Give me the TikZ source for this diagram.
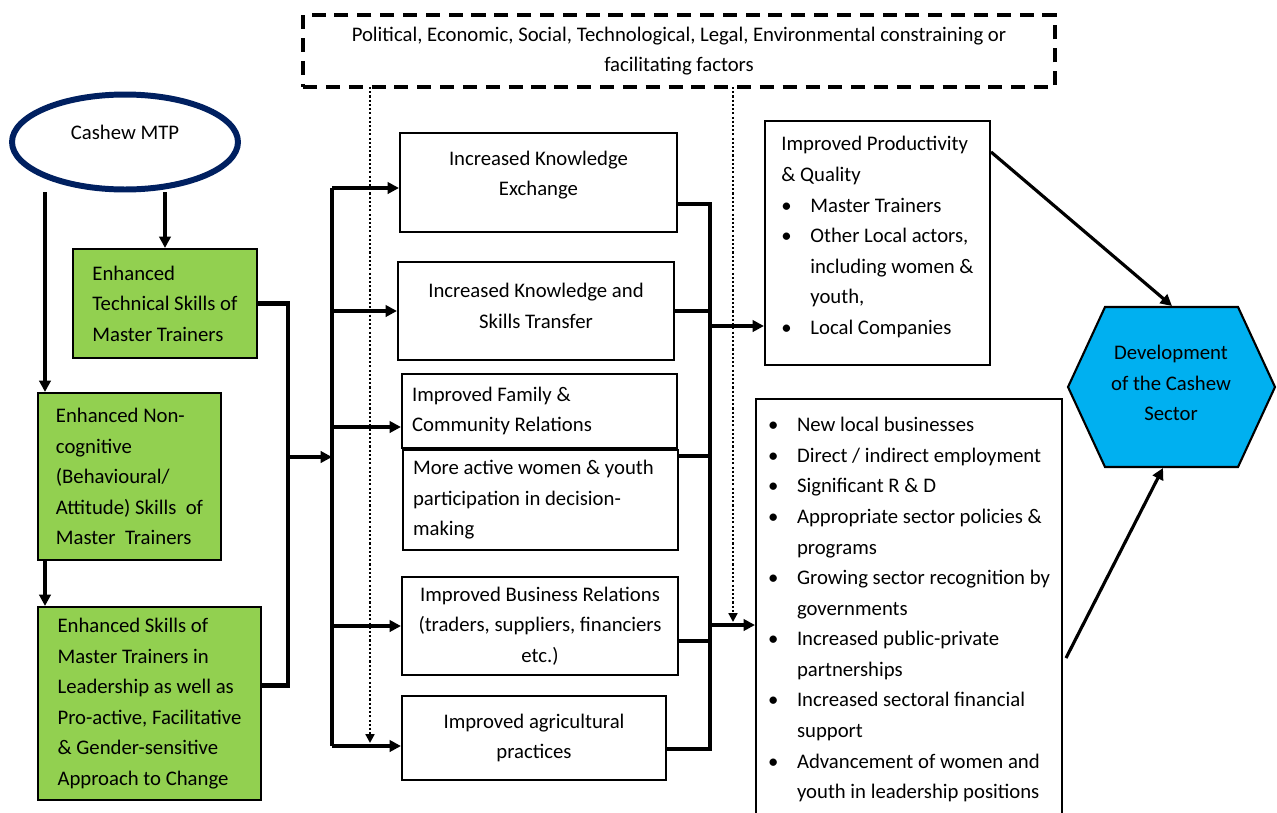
\documentclass[tikz,border=0pt]{standalone}
\usepackage{fontspec}
\setmainfont{Carlito}
\usepackage{xcolor}
\usepackage{tikz}
\usetikzlibrary{positioning,arrows.meta,shapes.geometric}
\definecolor{mtpnavy}{HTML}{002060}
\definecolor{skillgreen}{HTML}{92D050}
\definecolor{sectorblue}{HTML}{00B0F0}
\newcommand{\dfont}{\fontsize{11.8}{17.4}\selectfont}
\newcommand{\bl}{\makebox[0.58cm][l]{\textbullet}}
\newcommand{\bi}{\hspace*{0.58cm}}
\tikzset{
  mtpell/.style ={draw=mtpnavy, ellipse, line width=3.4pt, minimum width=4.52cm, minimum height=1.9cm, font=\dfont},
  skill/.style  ={draw, rectangle, fill=skillgreen, line width=1.2pt, align=left, font=\dfont},
  outc/.style   ={draw, rectangle, fill=white, line width=1.2pt, align=center, font=\dfont},
  outl/.style   ={outc, align=flush left, inner xsep=0.2cm},
  env/.style    ={draw, rectangle, dash pattern=on 8pt off 5pt, line width=2pt, align=center, font=\dfont},
  hexsec/.style ={draw, fill=sectorblue, line width=1.2pt},
  arr/.style    ={-{Triangle[length=6.5pt,width=6.5pt]}, line width=1.8pt},
  link/.style   ={line width=2.4pt},
  dotarr/.style ={-{Triangle[length=5pt,width=5pt]}, dash pattern=on 1.2pt off 1.2pt, line width=1.2pt},
}

\begin{document}
\begin{tikzpicture}[x=0.02cm, y=-0.02cm]
    \useasboundingbox (0,0) rectangle (1277,812);
    \clip (0,0) rectangle (1277,812);

    % external factors
    \node[env, minimum width=15.04cm, minimum height=1.44cm] (pest) at (679,51)
      {Political, Economic, Social, Technological, Legal, Environmental constraining or\\facilitating factors};

    % programme and skills
    \node[mtpell, text depth=0.4cm] (mtp) at (125,142) {Cashew MTP};
    \node[skill, minimum width=3.68cm, minimum height=2.18cm] (g1) at (165,303.5)
      {Enhanced\\Technical Skills of\\Master Trainers};
    \node[skill, minimum width=3.66cm, minimum height=3.34cm] (g2) at (129.5,476.5)
      {Enhanced Non-\\cognitive\\(Behavioural/\\Attitude) Skills~ of\\Master~ Trainers};
    \node[skill, minimum width=4.46cm, minimum height=3.86cm] (g3) at (149.5,703.5)
      {Enhanced Skills of\\Master Trainers in\\Leadership as well as\\Pro-active, Facilitative\\\& Gender-sensitive\\Approach to Change};

    % intermediate outcomes
    \node[outc, minimum width=5.54cm, minimum height=1.98cm, text depth=0.36cm] (A) at (538.5,182.5) {Increased Knowledge\\Exchange};
    \node[outc, minimum width=5.52cm, minimum height=1.96cm, text depth=0.2cm] (B) at (536,311) {Increased Knowledge and\\Skills Transfer};
    \node[outl, minimum width=5.5cm, minimum height=1.48cm, text width=5.1cm] (C) at (539.5,411) {Improved Family \&\\Community Relations};
    \node[outl, minimum width=5.5cm, minimum height=2.0cm, text width=5.1cm] (D) at (540.5,500) {More active women \& youth\\participation in decision-\\making};
    \node[outc, minimum width=5.52cm, minimum height=1.96cm] (E) at (540,626) {Improved Business Relations\\(traders, suppliers, financiers\\etc.)};
    \node[outc, minimum width=5.28cm, minimum height=1.68cm] (F) at (534,738) {Improved agricultural\\practices};

    % results
    \node[outc, align=left, minimum width=4.5cm, minimum height=4.88cm, text depth=0.3cm] (P) at (877.5,243)
      {Improved Productivity\\\& Quality\\\bl Master Trainers\\\bl Other Local actors,\\\bi including women \&\\\bi youth,\\\bl Local Companies};
    \node[outc, align=left, minimum width=6.12cm, minimum height=8.62cm, text depth=0.26cm] (S) at (909,614.5)
      {\bl New local businesses\\\bl Direct / indirect employment\\\bl Significant R \& D\\\bl Appropriate sector policies \&\\\bi programs\\\bl Growing sector recognition by\\\bi governments\\\bl Increased public-private\\\bi partnerships\\\bl Increased sectoral financial\\\bi support\\\bl Advancement of women and\\\bi youth in leadership positions};

    % impact
    \filldraw[hexsec] (1068,387) -- (1105,307) -- (1238,307) -- (1275,387) -- (1238,467) -- (1105,467) -- cycle;
    \node[font=\dfont, align=center] (dev) at (1171,383) {Development\\of the Cashew\\Sector};
    \coordinate (hexT) at (1172,306);
    \coordinate (hexB) at (1163,468);

    % left side
    \coordinate (ml) at (45,192);
    \draw[arr] (mtp.south -| g1.north) -- (g1.north);
    \draw[arr] (ml) -- (ml |- g2.north);
    \draw[arr] (ml |- g2.south) -- (ml |- g3.north);
    \coordinate (lj) at (288,457);
    \draw[link] (g1.east) -| (lj) |- ([yshift=0.36cm]g3.east);

    % bus to outcomes
    \coordinate (busT) at (332,188);
    \coordinate (busB) at (332,746);
    \coordinate (cin) at ([yshift=-0.32cm]C.west);
    \draw[line width=2pt] (busT) -- (busB);
    \draw[arr] (lj) -- (lj -| busT);
    \draw[arr] (busT) -- (busT -| A.west);
    \draw[arr] (busT |- B.west) -- (B.west);
    \draw[arr] (busT |- cin) -- (cin);
    \draw[arr] (busT |- E.west) -- (E.west);
    \draw[arr] (busB) -- (busB -| F.west);

    % collector
    \coordinate (rjT) at (710,204);
    \coordinate (rjB) at (710,749);
    \coordinate (dout) at ([yshift=-0.14cm]D.north east);
    \coordinate (eout) at ([yshift=-0.3cm]E.east);
    \draw[link] (rjT -| A.east) -- (rjT) -- (rjB) -- (rjB -| F.east);
    \draw[link] (B.east) -- (B.east -| rjT);
    \draw[link] (dout) -- (dout -| rjT);
    \draw[link] (eout) -- (eout -| rjT);
    \coordinate (rp) at (710,326);
    \coordinate (rs) at (710,625);
    \draw[arr] (rp) -- (rp -| P.west);
    \draw[arr] (rs) -- (rs -| S.west);

    % external influence
    \coordinate (dt1) at (370,87);
    \coordinate (dt2) at (733,87);
    \draw[dotarr] (dt1) -- ([yshift=0.06cm]dt1 |- busB);
    \draw[dotarr] (dt2) -- ([yshift=0.06cm]dt2 |- rs);

    % towards the sector
    \coordinate (s1) at (1066,658);
    \draw[arr] ([yshift=-0.64cm]P.north east) -- (hexT);
    \draw[arr] (s1) -- (hexB);
\end{tikzpicture}
\end{document}
